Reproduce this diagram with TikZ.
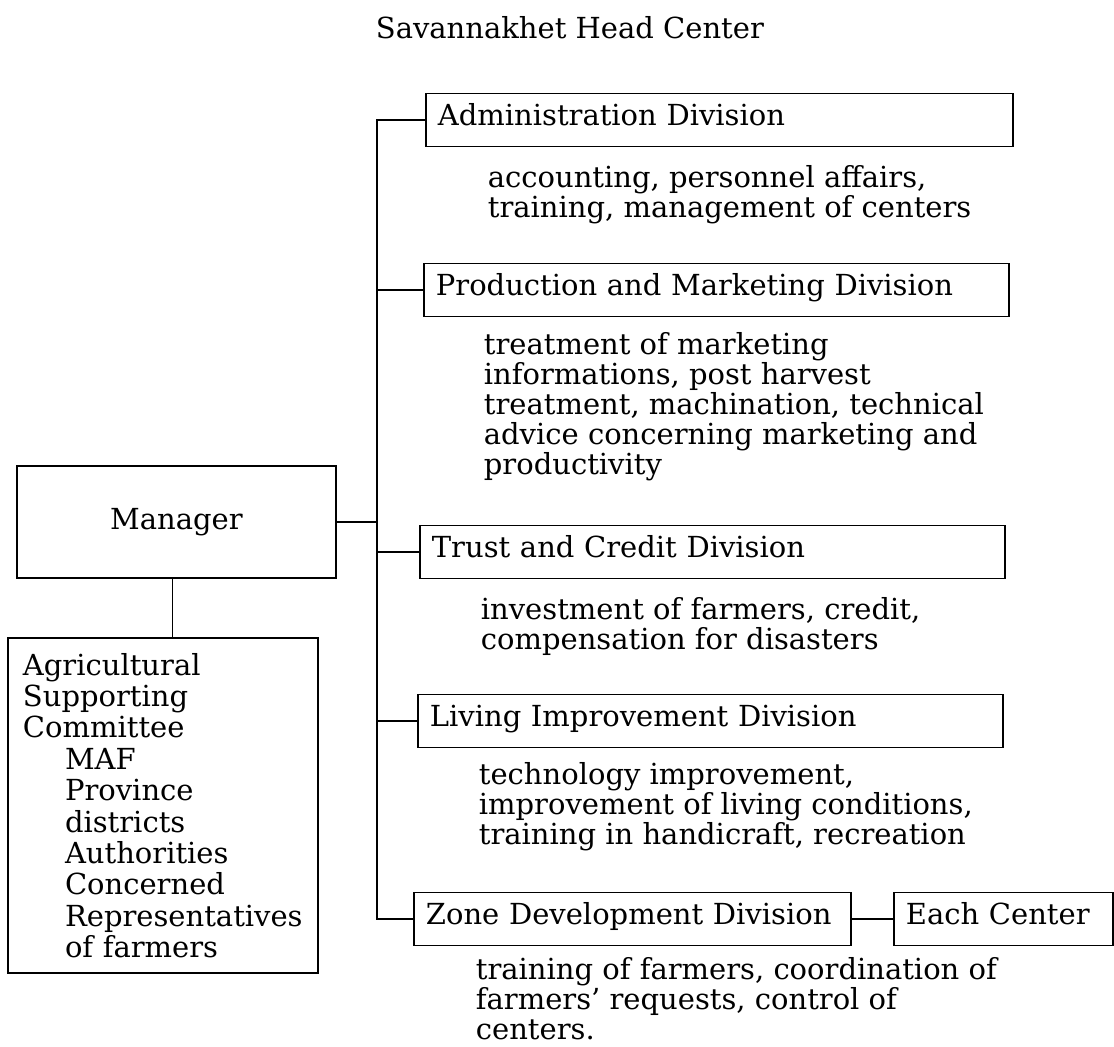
\documentclass[tikz,border=0pt]{standalone}
\usepackage{fontspec}
\setmainfont{DejaVu Serif}
\usepackage{tikz}
\tikzset{
  divbox/.style={draw, anchor=west, minimum height=26.5pt, inner xsep=6pt,
    text width=#1, align=left, text height=0.72em, text depth=0.22em},
  desc/.style={anchor=north west, inner sep=0pt, align=left}
}
\newcommand{\indnt}{\hspace*{21pt}}

\begin{document}
\begin{tikzpicture}[x=0.5pt, y=-0.5pt, line width=0.9pt,
    font=\fontsize{14.5pt}{15pt}\selectfont]
  \useasboundingbox (0,0) rectangle (1114,1046);
  \node[anchor=base west, inner sep=0pt] (title) at (375,38) {Savannakhet Head Center};

  % divisions
  \node[divbox=281.5pt] (admin) at (425,120) {Administration Division};
  \node[desc] (admintxt) at (487,165) {accounting, personnel affairs,\\training, management of centers};
  \node[divbox=280.5pt] (prod) at (423,290) {Production and Marketing Division};
  \node[desc] (prodtxt) at (483,332) {treatment of marketing\\informations, post harvest\\treatment, machination, technical\\advice concerning marketing and\\productivity};
  \node[divbox=280.5pt] (trust) at (419,552) {Trust and Credit Division};
  \node[desc] (trusttxt) at (480,597) {investment of farmers, credit,\\compensation for disasters};
  \node[divbox=280.5pt] (living) at (417,721) {Living Improvement Division};
  \node[desc] (livingtxt) at (478,762) {technology improvement,\\improvement of living conditions,\\training in handicraft, recreation};
  \node[divbox=206.5pt] (zone) at (413,919) {Zone Development Division};
  \node[desc] (zonetxt) at (475,957) {training of farmers, coordination of\\farmers' requests, control of\\centers.};
  \node[divbox=97.5pt] (each) at (893,919) {Each Center};

  % manager side
  \node[draw, minimum width=159.5pt, minimum height=56pt] (manager) at (176.5,522) {Manager};
  \node[draw, minimum width=155pt, minimum height=167.5pt, inner xsep=7.5pt,
    text width=140pt, align=left, font=\fontsize{14.5pt}{15.7pt}\selectfont] (agri) at (163,805.5)
    {Agricultural\\Supporting\\Committee\\\indnt MAF\\\indnt Province\\\indnt districts\\\indnt Authorities\\\indnt Concerned\\\indnt\mbox{Representatives}\\\indnt of farmers};

  % connectors
  \coordinate (bus) at (377,0);
  \draw (admin.west) -- (admin.west -| bus) -- (zone.west -| bus) -- (zone.west);
  \foreach \d in {prod,trust,living}
    \draw (\d.west) -- (\d.west -| bus);
  \draw (manager.east) -- (manager.east -| bus);
  \draw ([xshift=-2pt]manager.south) -- ([xshift=-2pt]manager.south |- agri.north);
  \draw (zone.east) -- (zone.east -| each.west);
\end{tikzpicture}
\end{document}
